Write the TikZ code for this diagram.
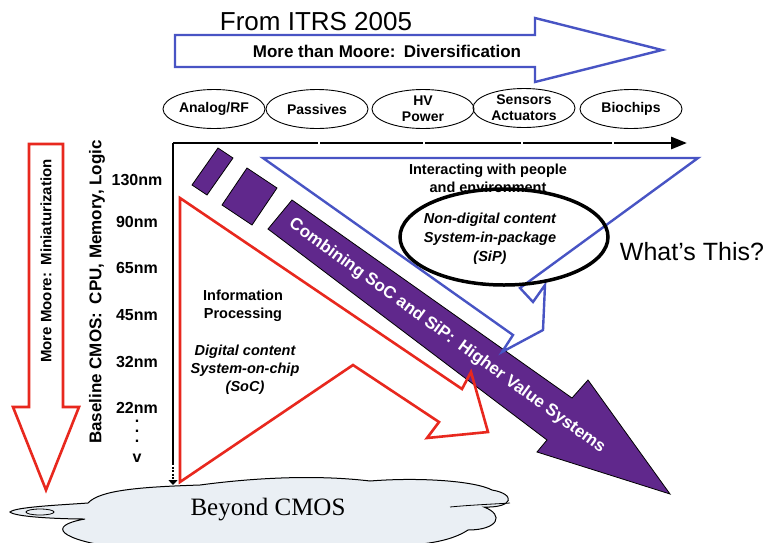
\documentclass[tikz,border=0pt]{standalone}
\usepackage{fontspec}
\setmainfont{Liberation Sans}
\newfontfamily\cloudserif{Liberation Serif}
\usetikzlibrary{arrows.meta,shapes.geometric}
\definecolor{myred}{RGB}{232,40,30}
\definecolor{myblue}{RGB}{72,84,196}
\definecolor{mypurple}{RGB}{96,40,140}
\definecolor{cloudfill}{RGB}{234,239,244}
\begin{document}
\begin{tikzpicture}[x=1pt,y=-1pt,
  elab/.style={ellipse, draw=black, line width=0.9pt, minimum width=102pt, minimum height=39pt, inner sep=0pt, font=\fontsize{14}{16}\selectfont\bfseries, align=center},
  lab/.style={font=\fontsize{14.5}{18}\selectfont\bfseries, align=center, inner sep=0pt},
  ital/.style={font=\fontsize{14.5}{18}\selectfont\bfseries\itshape, align=center, inner sep=0pt},
  nm/.style={font=\fontsize{16}{18}\selectfont\bfseries, inner sep=0pt},
  redline/.style={draw=myred, line width=2.6pt, line join=miter},
  blueline/.style={draw=myblue, line width=2.4pt, line join=miter},
  purp/.style={fill=mypurple, draw=black, line width=0.8pt},
  axisline/.style={line width=2.8pt, draw=black}
]
\useasboundingbox (0,0) rectangle (771,542);
\fill[white] (0,0) rectangle (771,542);

% cloud
\path[fill=cloudfill, draw=black, line width=1pt]
  (88,503) .. controls (100,490) and (140,487) .. (200,485)
  .. controls (260,477) and (320,475) .. (370,481)
  .. controls (420,477) and (475,481) .. (492,490)
  .. controls (516,494) and (514,508) .. (484,507)
  .. controls (505,515) and (498,530) .. (468,530)
  .. controls (450,542) and (420,546) .. (380,546)
  -- (120,548)
  .. controls (60,540) and (45,526) .. (85,519)
  .. controls (60,519) and (15,517) .. (10,512)
  .. controls (15,507) and (60,505) .. (88,503) -- cycle;
\draw[line width=0.8pt] (40,512) ellipse [x radius=14, y radius=3];
\draw[line width=0.8pt] (450,507) .. controls (470,505) and (495,504) .. (510,503);
\node[font=\cloudserif\fontsize{25}{28}\selectfont, inner sep=0pt] (cmos) at (268,510) {Beyond CMOS};

% title
\node[font=\fontsize{26}{28}\selectfont, inner sep=0pt] (title) at (316,22) {From ITRS 2005};

% top blue arrow
\draw[blueline] (175,35) -- (535,35) -- (535,18) -- (662,50) -- (535,82) -- (535,67) -- (175,67) -- cycle;
\node[font=\fontsize{17}{19}\selectfont\bfseries, inner sep=0pt] (mtm) at (387,51) {More than Moore:\hspace{0.5em}Diversification};

% ellipses
\node[elab] (e1) at (214,109) {Analog/RF};
\node[elab] (e2) at (317,109) {Passives};
\node[elab] (e3) at (423,109) {HV\\Power};
\node[elab] (e4) at (524,108) {Sensors\\Actuators};
\node[elab] (e5) at (631,109) {Biochips};

% left red arrow
\draw[redline] (29,144) -- (63,144) -- (63,407) -- (79,407) -- (46,490) -- (13,407) -- (29,407) -- cycle;
\node[font=\fontsize{15}{17}\selectfont\bfseries, rotate=90, inner sep=0pt] (mm) at (46,261) {More Moore:\hspace{0.5em}Miniaturization};
\node[font=\fontsize{17}{19}\selectfont\bfseries, rotate=90, inner sep=0pt] (base) at (97,292) {Baseline CMOS:\hspace{0.5em}CPU, Memory, Logic};

% nm labels
\node[nm] (n130) at (137,180) {130nm};
\node[nm] (n90) at (137,222) {90nm};
\node[nm] (n65) at (137,268) {65nm};
\node[nm] (n45) at (137,315) {45nm};
\node[nm] (n32) at (137,362) {32nm};
\node[nm] (n22) at (137,408) {22nm};
\node[font=\fontsize{16}{10}\selectfont\bfseries, align=center, inner sep=0pt] (dots) at (137,431) {.\\.\\.};
\node[nm] (nv) at (137,458) {v};

% axes
\coordinate (ax0) at (173,143);
\coordinate (axx) at (687,143);
\coordinate (axm) at (173,463);
\coordinate (axy) at (173,485);
\draw[axisline, -{Triangle[length=16pt,width=12pt]}] (ax0) -- (axx);
\draw[axisline] (ax0) -- (axm);
\draw[axisline, dash pattern=on 2pt off 1.5pt, -{Triangle[length=5pt,width=9pt]}] (axm) -- (axy);
\foreach \tx in {319,424,522,613}{\draw[white, line width=1.6pt] (\tx,140.5) -- (\tx,144);}

% purple arrow
\filldraw[purp] (192,185) -- (218,148) -- (233,158) -- (207,195) -- cycle;
\filldraw[purp] (222,205) -- (247,168) -- (277,188) -- (252,225) -- cycle;
\filldraw[purp] (292,200) -- (572,398) -- (588,380) -- (670,494) -- (537,452) -- (547,440) -- (268,229) -- cycle;
\node[font=\fontsize{17}{19}\selectfont\bfseries, text=white, rotate=-36, inner sep=0pt] (combo) at (447,336) {Combining SoC and SiP:\hspace{0.5em}Higher Value Systems};

% red wedge
\draw[redline] (180,198) -- (462,389) -- (471,372) -- (488,432) -- (427,438) -- (439,422) -- (353,365) -- (180,482) -- cycle;
\node[lab] (info) at (243,306) {Information\\Processing};
\node[ital] (soc) at (245,370) {Digital content\\System-on-chip\\(SoC)};

% blue wedge
\draw[blueline] (263,158) -- (698,158) -- (520,288) -- (533,302) -- (545,285) -- (543,330) -- (502,352) -- (513,335) -- cycle;
\node[lab] (inter) at (488,178) {Interacting with people\\and environment};
\node[ellipse, draw=black, line width=3.5pt, minimum width=208pt, minimum height=96pt, inner sep=0pt] (sipell) at (504,237) {};
\node[font=\fontsize{14.5}{19}\selectfont\bfseries\itshape, align=center, inner sep=0pt] (sip) at (490,239) {Non-digital content\\System-in-package\\(SiP)};

\node[font=\fontsize{25}{28}\selectfont, inner sep=0pt] (what) at (692,252) {What’s This?};
\end{tikzpicture}
\end{document}
